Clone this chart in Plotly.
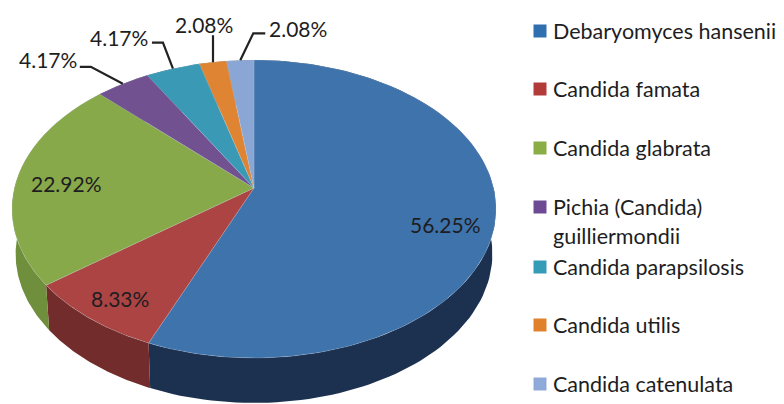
import numpy as np
import plotly.graph_objects as go

# ---- data ----
species = ["Debaryomyces hansenii", "Candida famata", "Candida glabrata",
           "Pichia (Candida)<br>guilliermondii", "Candida parapsilosis",
           "Candida utilis", "Candida catenulata"]
shares = [56.25, 8.33, 22.92, 4.17, 4.17, 2.08, 2.08]
top_colors = ["#3f73ab", "#ab4442", "#88a94a", "#71518f", "#3a9ab5", "#de8432", "#8aa6d4"]
side_colors = ["#1c3150", "#722c2b", "#6f8f3c", "#4b3560", "#26677a", "#94581f", "#5c6f8e"]
legend_colors = ["#2f6fb0", "#b23b3a", "#8bad45", "#6f4a94", "#359cb8", "#e0812c", "#8fa9d8"]

# ---- perspective of the pie on the pixel-sized axes ----
CX, CY, A, B, K = 254.0, 188.0, 239.6, 146.0, 0.141
DEPTH, SHRINK = 45.0, 0.985


def project(theta, r=1.0):
    u, v = r * np.sin(theta), r * np.cos(theta)
    w = 1 + K * v
    return CX + A * u / w, CY - B * v / w


total = sum(shares)
edges = np.cumsum([0] + shares) / total * 2 * np.pi

# label offsets relative to the slice (pixels)
inside_offset = {0: (445, 224), 1: (119.5, 298), 2: (66, 183)}
leaders = {3: [(-32, -17), (-43, -17)], 4: [(-10, -26), (-21, -26)],
           5: [(0, -27), (0, -27)], 6: [(13, -27), (25, -27)]}
leader_text = {3: (-75, -24, "center"), 4: (-54, -31, "center"),
               5: (-9, -38, "center"), 6: (58, -32, "center")}

fig = go.Figure()

# side walls first: the top faces hide the rear part
for i in range(len(shares)):
    t = np.linspace(edges[i], edges[i + 1], 120)
    xt, yt = project(t)
    xb = CX + (xt - CX) * SHRINK
    yb = yt + DEPTH
    fig.add_trace(go.Scatter(x=np.r_[xt, xb[::-1]], y=np.r_[yt, yb[::-1]], mode="lines",
                             fill="toself", fillcolor=side_colors[i], line=dict(width=0),
                             hoverinfo="skip", showlegend=False))

# top faces
for i, name in enumerate(species):
    t = np.linspace(edges[i], edges[i + 1], 160)
    xt, yt = project(t)
    fig.add_trace(go.Scatter(x=np.r_[CX, xt, CX], y=np.r_[CY, yt, CY], mode="lines",
                             fill="toself", fillcolor=top_colors[i],
                             line=dict(width=0.6, color="rgba(200,215,235,0.35)"),
                             name=name.replace("<br>", " "), hoverinfo="name", showlegend=False))

# leader lines
for i, pts in leaders.items():
    mid = (edges[i] + edges[i + 1]) / 2
    mx, my = project(mid)
    fig.add_trace(go.Scatter(x=[mx] + [mx + p[0] for p in pts], y=[my] + [my + p[1] for p in pts],
                             mode="lines", line=dict(color="#222222", width=2.2),
                             hoverinfo="skip", showlegend=False))

VAL_FONT = dict(family="Lato, sans-serif", size=21, color="#1d1d22")
LEG_FONT = dict(family="Lato, sans-serif", size=21.5, color="#1d1d22")
ann = []
for i, v in enumerate(shares):
    if i in inside_offset:
        x, y = inside_offset[i]
    else:
        mx, my = project((edges[i] + edges[i + 1]) / 2)
        x, y = mx + leader_text[i][0], my + leader_text[i][1]
    ann.append(dict(x=x, y=y, text=f"{v:.2f}%", showarrow=False, font=VAL_FONT,
                    xanchor="center", yanchor="middle"))

# legend column
LEG_X, TXT_X = 540, 551
leg_y = [31, 89, 148, 207, 267, 325, 384]
fig.add_trace(go.Scatter(x=[LEG_X] * len(species), y=leg_y, mode="markers",
                         marker=dict(symbol="square", size=13, color=legend_colors),
                         hoverinfo="skip", showlegend=False))
for name, y in zip(species, leg_y):
    for j, line in enumerate(name.split("<br>")):
        ann.append(dict(x=TXT_X, y=y + j * 29, text=line, showarrow=False, font=LEG_FONT,
                        xanchor="left", yanchor="middle"))

fig.update_layout(width=784, height=404, margin=dict(l=0, r=0, t=0, b=0),
                  paper_bgcolor="white", plot_bgcolor="white", annotations=ann,
                  xaxis=dict(range=[0, 784], visible=False, fixedrange=True),
                  yaxis=dict(range=[404, 0], visible=False, fixedrange=True))
fig.write_html("out.html", config=dict(displayModeBar=False),
               post_script="document.body.style.margin='0';")
